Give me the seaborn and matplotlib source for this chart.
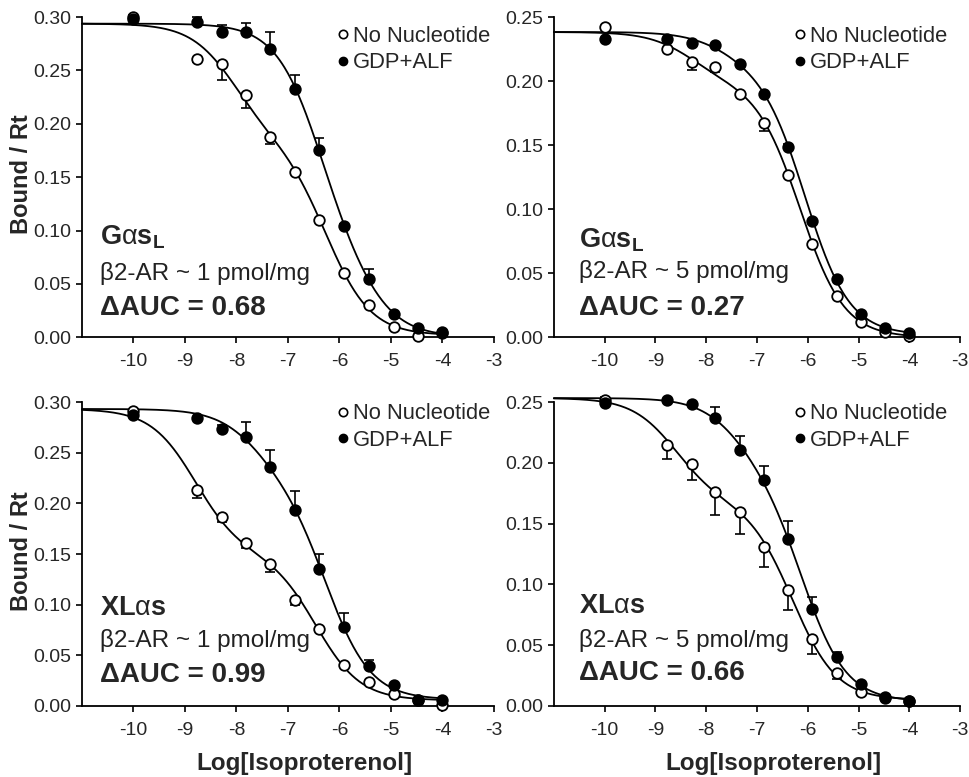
import numpy as np
import pandas as pd
import matplotlib
matplotlib.use("Agg")
import matplotlib.pyplot as plt
from matplotlib.lines import Line2D
import seaborn as sns

# log[isoproterenol] of the measured points
log_iso = [-10, -8.77, -8.29, -7.82, -7.34, -6.86, -6.39, -5.91, -5.43, -4.95, -4.48, -4]

# Bound / Rt, open = no nucleotide, filled = GDP+ALF
gsl_1_none = [0.300, 0.261, 0.256, 0.227, 0.1875, 0.155, 0.110, 0.060, 0.030, 0.010, 0.001, 0.005]
gsl_1_gdp = [0.298, 0.295, 0.286, 0.286, 0.270, 0.233, 0.175, 0.104, 0.055, 0.0215, 0.0085, 0.004]
gsl_5_none = [0.242, 0.2253, 0.215, 0.211, 0.1897, 0.167, 0.1266, 0.0725, 0.0325, 0.012, 0.0044, 0.001]
gsl_5_gdp = [0.233, 0.2326, 0.2297, 0.2284, 0.213, 0.190, 0.1486, 0.091, 0.0455, 0.018, 0.007, 0.003]
xl_1_none = [0.291, 0.213, 0.187, 0.161, 0.140, 0.105, 0.0756, 0.040, 0.0233, 0.0118, 0.006, 0.0005]
xl_1_gdp = [0.287, 0.284, 0.274, 0.266, 0.236, 0.194, 0.135, 0.078, 0.039, 0.0207, 0.006, 0.006]
xl_5_none = [0.252, 0.2144, 0.1988, 0.176, 0.1596, 0.131, 0.0953, 0.0548, 0.0274, 0.0118, 0.0063, 0.004]
xl_5_gdp = [0.2494, 0.2514, 0.2486, 0.2371, 0.2103, 0.1857, 0.137, 0.080, 0.0405, 0.018, 0.0077, 0.004]

# one-sided SEM: open points downward, filled points upward
gsl_1_none_err = [0, 0.003, 0.015, 0.012, 0.006, 0.002, 0, 0, 0, 0.003, 0, 0]
gsl_1_gdp_err = [0.004, 0.005, 0.007, 0.008, 0.016, 0.013, 0.012, 0.002, 0.009, 0, 0, 0]
gsl_5_none_err = [0, 0.002, 0.006, 0.004, 0, 0.006, 0, 0, 0, 0, 0, 0]
gsl_5_gdp_err = [0, 0, 0, 0, 0, 0, 0.002, 0, 0, 0, 0, 0]
xl_1_none_err = [0, 0.008, 0.005, 0.005, 0.008, 0.005, 0, 0, 0, 0, 0, 0]
xl_1_gdp_err = [0, 0, 0.003, 0.014, 0.017, 0.018, 0.015, 0.014, 0.006, 0, 0, 0]
xl_5_none_err = [0.003, 0.011, 0.013, 0.019, 0.018, 0.017, 0.016, 0.012, 0.005, 0, 0, 0]
xl_5_gdp_err = [0.005, 0, 0, 0.009, 0.012, 0.012, 0.015, 0.010, 0.004, 0, 0, 0]

protein_labels = [r"$\mathbf{G}\mathrm{\alpha}\mathbf{s}_\mathbf{L}$", r"$\mathbf{G}\mathrm{\alpha}\mathbf{s}_\mathbf{L}$",
                  r"$\mathbf{XL}\mathrm{\alpha}\mathbf{s}$", r"$\mathbf{XL}\mathrm{\alpha}\mathbf{s}$"]
receptor_labels = ["β2-AR ~ 1 pmol/mg", "β2-AR ~ 5 pmol/mg", "β2-AR ~ 1 pmol/mg", "β2-AR ~ 5 pmol/mg"]
auc_labels = ["ΔAUC = 0.68", "ΔAUC = 0.27", "ΔAUC = 0.99", "ΔAUC = 0.66"]
y_tops = [0.30, 0.25, 0.30, 0.25]
x_ticks = [-10, -9, -8, -7, -6, -5, -4, -3]

panels = [
    (gsl_1_none, gsl_1_none_err, gsl_1_gdp, gsl_1_gdp_err),
    (gsl_5_none, gsl_5_none_err, gsl_5_gdp, gsl_5_gdp_err),
    (xl_1_none, xl_1_none_err, xl_1_gdp, xl_1_gdp_err),
    (xl_5_none, xl_5_none_err, xl_5_gdp, xl_5_gdp_err),
]

# text placement in axes fractions (x, y of three baselines)
text_pos = [
    (0.044, [0.29, 0.178, 0.069]),
    (0.063, [0.28, 0.184, 0.069]),
    (0.044, [0.30, 0.194, 0.079]),
    (0.063, [0.306, 0.194, 0.086]),
]
legend_pos = [(0.617, 0.898), (0.59, 0.898), (0.617, 0.918), (0.59, 0.918)]

CS = np.arange(-11.0, -3.0, 0.05)


def fit_two_site(x, y, top=None):
    """Two-site competition fit: grid over both logIC50s, linear LSQ for amplitudes.
    If top is given the upper plateau is held at that value."""
    x = np.asarray(x, float)
    y = np.asarray(y, float)
    best = (np.inf, None, None)
    for i, c1 in enumerate(CS):
        h1 = 1 - 1 / (1 + 10 ** (x - c1))
        for c2 in CS[i + 1:]:
            h2 = 1 - 1 / (1 + 10 ** (x - c2))
            if top is None:
                A = np.column_stack([np.ones_like(x), -h1, -h2])
                coef, *_ = np.linalg.lstsq(A, y, rcond=None)
                amps = coef[1:]
                pred = A @ coef
            else:
                A = np.column_stack([-h1, -h2])
                coef, *_ = np.linalg.lstsq(A, y - top, rcond=None)
                amps = coef
                pred = top + A @ coef
                coef = np.r_[top, coef]
            if amps[0] < 0 or amps[1] < 0:
                continue
            sse = ((pred - y) ** 2).sum()
            if sse < best[0]:
                best = (sse, (c1, c2), coef)
    return best[1], best[2]


def curve(params, xs):
    (c1, c2), coef = params
    return coef[0] - coef[1] * (1 - 1 / (1 + 10 ** (xs - c1))) - coef[2] * (1 - 1 / (1 + 10 ** (xs - c2)))


sns.set_style("ticks")
plt.rcParams["font.family"] = ["Liberation Sans", "DejaVu Sans"]
plt.rcParams["mathtext.fontset"] = "custom"
plt.rcParams["mathtext.rm"] = "Liberation Sans"
plt.rcParams["mathtext.it"] = "Liberation Sans:italic"
plt.rcParams["mathtext.bf"] = "Liberation Sans:bold"
TICK_FAMILY = ["Liberation Sans Narrow", "Liberation Sans", "DejaVu Sans"]

fig = plt.figure(figsize=(9.7, 7.77), dpi=100)
ax_rects = [
    [0.0845, 0.566, 0.4247, 0.412],
    [0.571, 0.566, 0.419, 0.412],
    [0.0845, 0.0914, 0.4247, 0.391],
    [0.571, 0.0914, 0.419, 0.391],
]
xs = np.linspace(-11, -4, 300)

for k, rect in enumerate(ax_rects):
    ax = fig.add_axes(rect)
    none_y, none_err, gdp_y, gdp_err = panels[k]

    # both curves of a panel share the upper plateau
    free = [fit_two_site(log_iso, yv) for yv in (none_y, gdp_y)]
    top = np.mean([p[1][0] for p in free])

    for yv, err, face, up in [(none_y, none_err, "white", False), (gdp_y, gdp_err, "black", True)]:
        params = fit_two_site(log_iso, yv, top=top)
        sns.lineplot(x=xs, y=curve(params, xs), ax=ax, color="black", linewidth=1.3,
                     clip_on=False, zorder=2)
        zeros = np.zeros(len(err))
        yerr = [zeros, err] if up else [err, zeros]
        ax.errorbar(log_iso, yv, yerr=yerr, fmt="none", ecolor="black", elinewidth=1.2,
                    capsize=3.5, capthick=1.2, clip_on=False, zorder=3)
        df = pd.DataFrame({"x": log_iso, "y": yv})
        sns.scatterplot(data=df, x="x", y="y", ax=ax, marker="o", s=58, color=face,
                        edgecolor="black", linewidth=1.3, clip_on=False, zorder=4)

    ax.set_xlim(-11, -3)
    ax.set_ylim(0, y_tops[k])
    ax.set_xticks(x_ticks)
    ax.set_xticklabels([str(t) for t in x_ticks], family=TICK_FAMILY, fontsize=14)
    yt = np.arange(0, y_tops[k] + 0.001, 0.05)
    ax.set_yticks(yt)
    ax.set_yticklabels([f"{v:.2f}" for v in yt], family=TICK_FAMILY, fontsize=14)
    ax.tick_params(axis="x", direction="out", length=4.5, width=1.2, pad=7, color="black")
    ax.tick_params(axis="y", direction="out", length=4.5, width=1.2, pad=3, color="black")
    for s in ["top", "right"]:
        ax.spines[s].set_visible(False)
    for s in ["left", "bottom"]:
        ax.spines[s].set_linewidth(1.3)
        ax.spines[s].set_color("black")

    tx, tys = text_pos[k]
    ax.text(tx, tys[0], protein_labels[k], transform=ax.transAxes, fontsize=19.5, va="baseline")
    ax.text(tx, tys[1], receptor_labels[k], transform=ax.transAxes, fontsize=17.5, va="baseline",
            color="#222222")
    ax.text(tx, tys[2], auc_labels[k], transform=ax.transAxes, fontsize=20, fontweight="bold",
            va="baseline")

    handles = [
        Line2D([], [], marker="o", ls="none", color="black", markerfacecolor="white",
               markersize=6, markeredgewidth=1.2),
        Line2D([], [], marker="o", ls="none", color="black", markersize=6),
    ]
    ax.legend(handles, ["No Nucleotide", "GDP+ALF"], loc="center left",
              bbox_to_anchor=legend_pos[k], frameon=False, fontsize=15.8,
              handletextpad=0.15, handlelength=0.6, labelspacing=0.25,
              borderaxespad=0, borderpad=0)

    if k >= 2:
        ax.set_xlabel("Log[Isoproterenol]", fontsize=17.5, fontweight="bold")
        ax.xaxis.set_label_coords(0.54, -0.153)
    else:
        ax.set_xlabel("")
    if k % 2 == 0:
        ax.set_ylabel("Bound / Rt", fontsize=17, fontweight="bold")
        ax.yaxis.set_label_coords(-0.12, 0.51)
    else:
        ax.set_ylabel("")

fig.savefig("out.png", dpi=100, facecolor="white")
